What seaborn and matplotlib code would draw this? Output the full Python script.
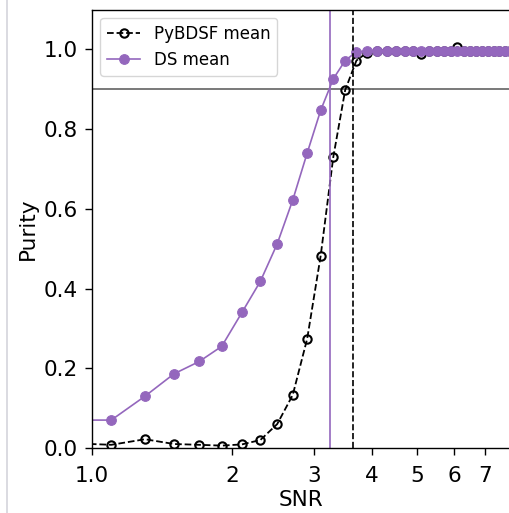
import numpy as np
import pandas as pd
import matplotlib
matplotlib.use("Agg")
import matplotlib.pyplot as plt
import seaborn as sns
from matplotlib.lines import Line2D

snr = [0.9, 1.1, 1.3, 1.5, 1.7, 1.9, 2.1, 2.3, 2.5, 2.7, 2.9, 3.1, 3.3, 3.5,
       3.7, 3.9, 4.1, 4.3, 4.5, 4.7, 4.9, 5.1, 5.3, 5.5, 5.7, 5.9, 6.1, 6.3,
       6.5, 6.7, 6.9, 7.1, 7.3, 7.5, 7.7, 7.9, 8.1, 8.3]
pybdsf_mean = [0.012, 0.008, 0.022, 0.010, 0.008, 0.006, 0.009, 0.020, 0.060,
               0.133, 0.274, 0.482, 0.730, 0.898, 0.972, 0.992, 0.996, 0.997,
               0.997, 0.997, 0.997, 0.988, 0.997, 0.997, 0.997, 0.997, 1.006,
               0.997, 0.997, 0.997, 0.997, 0.997, 0.997, 0.997, 0.997, 0.997,
               0.997, 0.997]
ds_mean = [0.070, 0.070, 0.130, 0.186, 0.217, 0.255, 0.340, 0.418, 0.512,
           0.622, 0.740, 0.847, 0.926, 0.972, 0.994, 0.996, 0.997, 0.997,
           0.997, 0.997, 0.997, 0.997, 0.997, 0.997, 0.997, 0.997, 0.996,
           0.997, 0.997, 0.997, 0.997, 0.997, 0.997, 0.997, 0.997, 0.997,
           0.997, 0.997]
purity_threshold = 0.9
ds_snr_cut = 3.24
pybdsf_snr_cut = 3.64
xtick_values = [1, 2, 3, 4, 5, 6, 7]
xtick_labels = ["1.0", "2", "3", "4", "5", "6", "7"]
ytick_values = [0.0, 0.2, 0.4, 0.6, 0.8, 1.0]

df = pd.DataFrame({"snr": snr, "pybdsf": pybdsf_mean, "ds": ds_mean})

purple = "#9467bd"
W, H = 510, 513
fig = plt.figure(figsize=(W / 100, H / 100), dpi=100)
ax = fig.add_axes([92 / W, (H - 448) / H, 419 / W, 438.5 / H])

sns.lineplot(data=df, x="snr", y="pybdsf", ax=ax, color="black", linestyle="--",
             linewidth=1.3, marker="o", markersize=6, markerfacecolor="none",
             markeredgecolor="black", markeredgewidth=1.5, label="PyBDSF mean",
             sort=False)
sns.lineplot(data=df, x="snr", y="ds", ax=ax, color=purple, linewidth=1.2,
             marker="o", markersize=7, markeredgecolor=purple, label="DS mean",
             sort=False)

ax.axhline(purity_threshold, color="#555555", linewidth=1.1, zorder=0)
ax.axvline(ds_snr_cut, color=purple, linewidth=1.2)
ax.axvline(pybdsf_snr_cut, color="black", linestyle="--", linewidth=1.2)

ax.set_xscale("log")
ax.set_xlim(1.0, 7.95)
ax.set_ylim(0.0, 1.1)
ax.set_xticks(xtick_values)
ax.set_xticklabels(xtick_labels)
ax.xaxis.set_minor_locator(matplotlib.ticker.NullLocator())
ax.set_yticks(ytick_values)
ax.set_yticklabels([f"{v:.1f}" for v in ytick_values])
ax.tick_params(labelsize=15.5, length=5, width=1.0)
ax.tick_params(axis="y", pad=5)
ax.tick_params(axis="x", pad=8)
for s in ax.spines.values():
    s.set_linewidth(1.0)
ax.set_xlabel("SNR", fontsize=15.5, labelpad=3)
ax.set_ylabel("Purity", fontsize=15.5, labelpad=4)

ax.legend(loc="upper left", fontsize=12)

fig.add_artist(Line2D([7 / W, 7 / W], [0, 1], transform=fig.transFigure,
                      color="#d4d4dc", linewidth=1.2))

fig.savefig("out.png", dpi=100)
